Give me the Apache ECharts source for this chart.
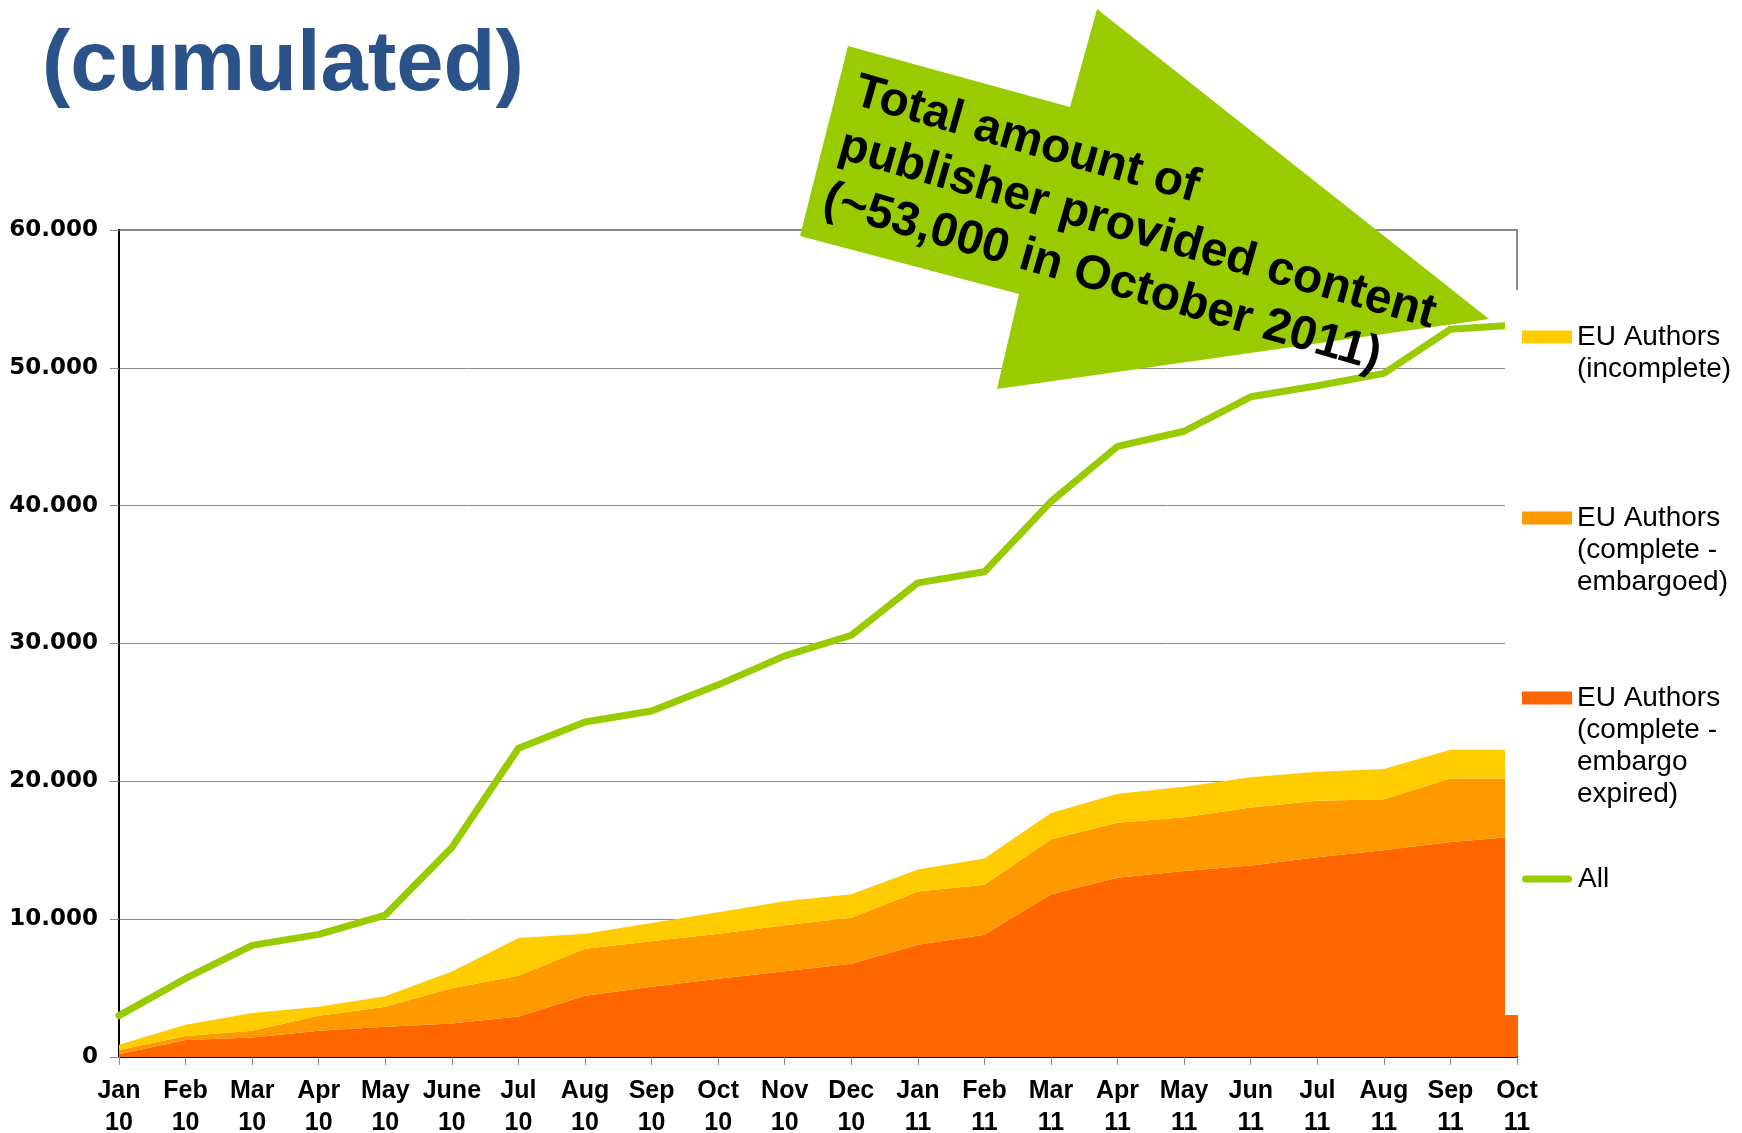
<!DOCTYPE html>
<html>
<head>
<meta charset="utf-8">
<script src="https://cdn.jsdelivr.net/npm/echarts@6/dist/echarts.min.js"></script>
<style>
html, body { margin: 0; padding: 0; background: #fff; }
#chart { width: 1742px; height: 1133px; }
</style>
</head>
<body>
<div id="chart"></div>
<script>
// 月份
var months = ['Jan\n10', 'Feb\n10', 'Mar\n10', 'Apr\n10', 'May\n10', 'June\n10', 'Jul\n10', 'Aug\n10', 'Sep\n10', 'Oct\n10', 'Nov\n10', 'Dec\n10',
	'Jan\n11', 'Feb\n11', 'Mar\n11', 'Apr\n11', 'May\n11', 'Jun\n11', 'Jul\n11', 'Aug\n11', 'Sep\n11', 'Oct\n11'];

// 堆叠面积 (每层的量)
var expired = [200, 1240, 1410, 1900, 2190, 2430, 2940, 4450, 5100, 5670, 6230, 6760, 8150, 8870, 11800, 13000, 13500, 13900, 14500, 15000, 15600, 16000];
var embargoed = [310, 290, 490, 1100, 1460, 2560, 2960, 3410, 3300, 3280, 3330, 3340, 3850, 3630, 4000, 4000, 3900, 4200, 4100, 3700, 4600, 4200];
var incomplete = [370, 810, 1290, 650, 750, 1210, 2740, 1090, 1330, 1550, 1740, 1700, 1600, 1900, 1900, 2100, 2200, 2200, 2100, 2200, 2100, 2100];

// 总量曲线
var all = [3000, 5700, 8100, 8900, 10300, 15200, 22400, 24300, 25100, 27000, 29100, 30600, 34400, 35200, 40300, 44300, 45400, 47900, 48700, 49600, 52800, 53100];

var names = ['EU Authors\n(incomplete)', 'EU Authors\n(complete -\nembargoed)', 'EU Authors\n(complete -\nembargo\nexpired)', 'All'];

var myChart = echarts.init(document.getElementById('chart'));

//图例 (每项单独定位, 首行与色块对齐: 前面补空行)
function makeLegend(name, lines, top, icon, h, w) {
	var prefix = '';
	for (var i = 1; i < lines; i++) prefix += '\n';
	return {
		left: 1522,
		top: top,
		padding: 0,
		orient: 'vertical',
		itemWidth: w,
		itemHeight: h,
		icon: icon,
		selectedMode: false,
		z: 60,
		itemStyle: { borderWidth: 0 },
		formatter: function (n) {
			return prefix + n;
		},
		textStyle: {
			fontFamily: 'Liberation Sans',
			fontSize: 28,
			lineHeight: 32,
			color: '#000'
		},
		data: [name]
	};
}

var option = {
	animation: false,
	backgroundColor: '#fff',
	grid: {
		left: 119,
		right: 225,
		top: 230,
		bottom: 76,
		outerBoundsMode: 'none',
		show: true,
		borderColor: '#8a8a8a',
		borderWidth: 2
	},
	legend: [
		makeLegend(names[0], 2, 289, 'rect', 13, 50),
		makeLegend(names[1], 3, 438, 'rect', 13, 50),
		makeLegend(names[2], 4, 586, 'rect', 13, 50),
		makeLegend(names[3], 1, 863, 'path://M3.5,0 L46.5,0 A3.5,3.5 0 0 1 46.5,7 L3.5,7 A3.5,3.5 0 0 1 3.5,0 Z', 7, 52)
	],
	xAxis: {
		type: 'category',
		data: months,
		boundaryGap: false,
		axisLine: { lineStyle: { color: '#000', width: 2 } },
		axisTick: { show: true, length: 8, lineStyle: { color: '#8a8a8a', width: 1 } },
		axisLabel: {
			interval: 0,
			margin: 18,
			fontFamily: 'Liberation Sans',
			fontWeight: 'bold',
			fontSize: 25,
			lineHeight: 32,
			color: '#000'
		}
	},
	yAxis: {
		type: 'value',
		min: 0,
		max: 60000,
		interval: 10000,
		axisLine: { show: true, lineStyle: { color: '#000', width: 2 } },
		axisTick: { show: true, length: 9, lineStyle: { color: '#8a8a8a', width: 1 } },
		splitLine: { lineStyle: { color: '#8a8a8a', width: 1 } },
		axisLabel: {
			margin: 21,
			fontFamily: 'DejaVu Sans',
			fontWeight: 'bold',
			fontSize: 23,
			color: '#000',
			formatter: function (v) {
				return v === 0 ? '0' : (v / 1000) + '.000';
			}
		}
	},
	series: [{
		name: names[2],
		type: 'line',
		stack: 'eu',
		data: expired,
		symbol: 'none',
		color: '#ff6600',
		lineStyle: { width: 0 },
		areaStyle: { color: '#ff6600', opacity: 1 },
		z: 2
	}, {
		name: names[1],
		type: 'line',
		stack: 'eu',
		data: embargoed,
		symbol: 'none',
		color: '#ff9900',
		lineStyle: { width: 0 },
		areaStyle: { color: '#ff9900', opacity: 1 },
		z: 2
	}, {
		name: names[0],
		type: 'line',
		stack: 'eu',
		data: incomplete,
		symbol: 'none',
		color: '#ffcc00',
		lineStyle: { width: 0 },
		areaStyle: { color: '#ffcc00', opacity: 1 },
		z: 2
	}, {
		name: names[3],
		type: 'line',
		data: all,
		symbol: 'none',
		color: '#99cc00',
		lineStyle: { width: 7, color: '#99cc00', cap: 'round', join: 'round' },
		z: 3
	}],
	graphic: [{
		// 标题
		type: 'text',
		left: 42,
		top: 24,
		z: 70,
		style: {
			text: '(cumulated)',
			fontFamily: 'Liberation Sans',
			fontWeight: 'bold',
			fontSize: 85,
			fill: '#2b5389'
		}
	}, {
		// 图例白底 (遮住右侧)
		type: 'rect',
		shape: { x: 1505, y: 290, width: 237, height: 725 },
		style: { fill: '#fff' },
		z: 50
	}, {
		// 绿色箭头
		type: 'polygon',
		shape: {
			points: [[848, 46], [1070, 107], [1097, 9], [1489, 319], [997, 389], [1019, 294], [800, 236]]
		},
		style: { fill: '#99cc00' },
		z: 70
	}, {
		type: 'text',
		x: 863,
		y: 64,
		rotation: -16 * Math.PI / 180,
		z: 71,
		style: {
			text: 'Total amount of\npublisher provided content\n(~53,000 in October 2011)',
			fontFamily: 'Liberation Sans',
			fontWeight: 'bold',
			fontSize: 48,
			lineHeight: 56,
			fill: '#000',
			align: 'left',
			verticalAlign: 'top'
		}
	}]
};
myChart.setOption(option);
</script>
</body>
</html>
